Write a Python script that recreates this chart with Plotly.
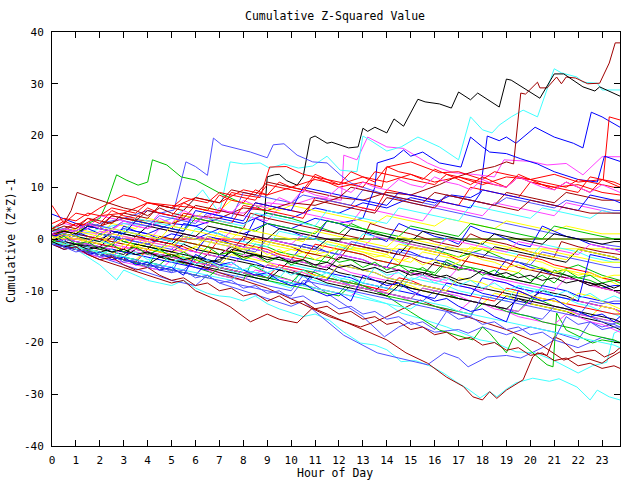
import plotly.graph_objects as go

# ---------------- prominent series: lists of [hour, cumulative value] ----------------
red_1 = [[0, 0], [23.75, 0]]
green_1 = [[9.0, 0], [23.75, 0]]
blue_1 = [[0,0.5],[1,1],[2,0],[3,2],[4,1],[5,3],[6,2.5],[7,4],[8,3],[9,5],[10,4],[11,6],[12,5],[13,7],[14,6],[15,8],[16,7],[16.7,8.5],[17.5,8],[17.9,9],[18.2,19.9],[18.7,19],[19.0,19.7],[19.4,18.5],[20.2,21.6],[21,19.7],[21.8,18.5],[22.2,17.6],[22.55,24.5],[23,23.6],[23.75,21.6]]
magenta_1 = [[0,1],[1,1.5],[2,1],[3,3],[4,2],[5,4],[6,3.5],[7,5.5],[8,5],[9,7],[10,6.5],[11,8],[12.1,7.5],[12.2,16.2],[12.75,15.3],[13.2,19.7],[14,17.8],[14.7,17.5],[15.7,14.7],[16.2,13.7],[16.8,12.8],[17.6,12.5],[18.5,12],[18.9,15.3],[20,15],[20.7,14.3],[21.5,14.6],[22.2,12.4],[23,15.9],[23.75,15.9]]
cyan_1 = [[0,0],[0.5,1],[1,0.5],[2,2],[3,3],[4,2.5],[5,4],[5.6,6],[6.3,9.5],[7.0,5],[7.45,14.9],[8,14.5],[8.7,14.7],[9.1,13.7],[9.7,14.5],[10.3,13.7],[10.9,14.1],[11.5,16],[12.05,13.3],[12.75,13],[13.0,19.9],[13.3,19.1],[14,17],[14.6,17.8],[15.3,19.7],[16.2,17.8],[17.0,15.3],[17.5,23.6],[18.0,21.1],[18.4,20.5],[18.7,22],[19.2,23.6],[19.7,24.9],[20.3,23.6],[21.0,32.9],[21.3,32.1],[21.95,31.3],[22.2,30.3],[22.8,30.1],[23.0,28.8],[23.75,28.8]]
darkred_1 = [[0,0.5],[0.5,2],[1,3],[2,2.5],[3,4],[4,3.5],[5,3],[6,4.5],[7,4],[8,6],[9,5.5],[10,7],[11,6.5],[12,8],[13,7.5],[14,9],[15,8.5],[16.2,10.5],[16.8,11.8],[17.8,13.3],[18.5,14],[19.0,14.9],[19.3,14.5],[19.6,28.2],[19.8,28],[20.3,30.3],[20.4,29.2],[20.7,29.2],[21.1,31.3],[21.3,30],[21.5,31.3],[21.9,31.1],[22.4,30],[22.9,30.1],[23.3,34],[23.55,37.9],[23.75,37.9]]
yellow_1 = [[0,0],[1,-1],[2,-0.5],[3,-2],[4,-1],[5,-2.5],[6,-1.5],[7,-3],[8,-2],[9,-3.5],[10,-2],[11,-3],[12,-1.9],[23.75,-1.9]]
black_1 = [[0,-0.5],[0.5,-0.5],[1,-1],[2,-1.5],[2.5,0.5],[3,-0.5],[4,-1.5],[5,-2.5],[5.5,-1],[6,-2],[7,-3],[7.5,-1.5],[8,-2.5],[8.75,-3.5],[9.0,12],[9.3,12.4],[9.5,12.5],[9.8,11.3],[10.25,10.4],[10.5,12],[10.8,19.5],[11.0,19.9],[11.5,18.5],[11.7,18.7],[12.4,17.6],[12.8,17.8],[13.0,21.4],[13.2,20.8],[13.5,21.6],[14.0,20.5],[14.3,23.2],[14.7,21.8],[15.3,27.0],[15.6,26.5],[16.2,26.1],[16.7,25.3],[17.0,28.4],[17.5,26.9],[17.8,28.2],[18.7,25.5],[19.0,30.9],[19.2,30.7],[20.4,27.2],[21.0,31.9],[21.4,31.9],[22.2,29.4],[22.7,28.6],[22.9,29.4],[23.75,27.6]]
slate_1 = [[0,0.5],[0.5,1.5],[1,1],[2,3],[3,4],[4,5.5],[4.5,5],[5.1,5.6],[5.6,14.9],[6.0,14],[6.5,12.3],[6.75,19.5],[7.1,18.2],[7.9,17.2],[8.3,16.8],[9.0,15.7],[9.25,18.2],[9.7,18.4],[10.25,16.2],[10.9,14.9],[11.5,14.7],[12.05,12.4],[12.5,10.8],[13,10],[14,8.5],[15,7],[16,6],[17,5],[18,4],[19,3],[20,2],[21,1],[22,0],[23,-1],[23.75,-1.5]]
red_2 = [[0,1],[1,2],[2,4.5],[3,5],[4,7],[5,6],[6,8],[7,7],[8,9.5],[9,8.5],[10,10],[11,11.5],[12,10.5],[13,12],[14,11],[15,12.5],[16,11],[17,12],[18,10.5],[19,12],[20,11.5],[21,12.5],[22,11],[23.05,11.5],[23.3,23.6],[23.75,23]]
green_2 = [[0,0.5],[0.5,1.5],[1,1],[1.5,3],[2,4],[2.3,7],[2.7,12.4],[3.1,11.4],[3.6,10.4],[4.0,11],[4.2,15.3],[4.8,14.3],[5.4,12],[6,11.4],[7,8.9],[7.9,7],[8.5,6.5],[9,5],[10,4],[11,2.5],[12,1],[12.5,3],[13,2],[14,0.5],[15,-1],[16,-2],[17,-3.5],[18,-2],[19,-4],[20,-5],[21,-6.5],[22,-5],[23,-7],[23.75,-8]]
blue_2 = [[0,4.8],[1,3],[2,1],[3,0],[4,-1],[5,1],[6,0],[7,2],[8,1],[9,3],[10,2],[11,4],[12,3],[13,4],[13.5,10],[13.6,14.7],[14.3,15.7],[14.7,17.2],[15,16],[15.5,16.8],[16.2,14.7],[17.1,13.9],[17.5,19.7],[18,17.8],[18.3,16.8],[19,16.5],[19.6,15.5],[20.3,14.5],[21,13],[22,11.5],[22.8,11],[23.1,16],[23.75,15]]
cyan_2 = [[0,0],[0.5,-1],[1,-2],[1.5,-3.5],[2,-5],[2.7,-7.9],[3,-6],[3.5,-7],[4,-8],[4.5,-8.5],[5,-9],[5.5,-8],[6,-9.5],[6.5,-10.5],[7,-11],[7.45,-11.2],[8,-12],[8.5,-11],[9,-12.5],[9.5,-13.5],[10,-14.3],[10.5,-15],[11,-14.5],[11.6,-15.7],[12.2,-18],[12.9,-20.1],[13.5,-20.5],[14,-21.4],[14.6,-23.7],[15.2,-23.5],[15.9,-24.7],[16.4,-26],[16.9,-27.6],[17.4,-29],[17.9,-30.7],[18.3,-29.5],[18.6,-30.5],[19,-29],[19.4,-27.8],[20.1,-26.9],[20.8,-27.5],[21.2,-27],[21.95,-28.6],[22.5,-31.1],[22.8,-29.2],[23.3,-30.5],[23.75,-31.1]]
darkred_2 = [[0,2],[0.5,3],[0.8,5.5],[1.05,9],[1.6,8.1],[2.3,7],[3,6],[3.5,5.5],[4,4.5],[4.5,6],[5,5],[6,4],[7,3],[8,2],[8.3,5],[9,4],[10,3],[11,2],[12,1],[13,0],[13.3,3],[14,2],[15,1],[16,-0.5],[17,-1.5],[17.5,1],[18,0],[19,-1],[20,-2.5],[21,-3.5],[21.3,-0.5],[22,-1.5],[23,-2.5],[23.75,-3]]
slate_2 = [[0,-0.5],[1,-2],[2,-3.5],[3,-5],[4,-6.5],[5,-8],[6,-9],[6.5,-7],[7,-8.5],[8,-10],[9,-11.5],[10,-13],[10.5,-12],[11,-14],[12.2,-18.6],[13.6,-22],[14.5,-23],[15.7,-24.3],[16.4,-22],[17,-23],[17.4,-24.7],[18.2,-22.8],[19,-22.5],[19.6,-23],[20.5,-21],[21,-19.5],[22,-21],[22.5,-20],[23,-19],[23.75,-20]]
red_3 = [[0,6.5],[0.5,3],[1,5],[1.5,4.5],[2,6],[3,8.5],[3.5,8],[4,7],[5,6.5],[6,6],[7,5],[7.5,9],[8,8.5],[8.7,8],[9.1,13.9],[9.8,14],[10.5,12.5],[11,12],[12,10],[13,11],[13.8,10],[14,13.9],[15,14.9],[15.5,14],[16.2,12.8],[17,13],[18,11.5],[18.5,13],[19.5,12],[20,11],[21,10],[22,10.5],[23,9],[23.75,8.5]]
cyan_3 = [[0,0],[1,-1.5],[2,-2.5],[3,-4],[4,-5],[4.3,-2],[5,-3],[6,-4.5],[7,-5.5],[8,-7],[9,-8],[10,-9.5],[10.3,-7],[11,-8],[12,-9.5],[13,-11],[14,-12.5],[14.6,-14.3],[15.5,-15.5],[16.5,-17],[17.9,-19.5],[18.5,-20],[19.4,-21.8],[20.2,-22],[21,-23.5],[22,-25.9],[22.6,-24.5],[23.2,-23.8],[23.5,-18.2],[23.75,-17.6]]
darkred_3 = [[0,0],[1,-2],[2,-4],[3,-5.5],[4,-7],[5,-8.5],[5.5,-8],[6,-10],[7,-12],[7.45,-13.1],[8.3,-16],[9,-14.5],[9.5,-15.5],[10.25,-16.2],[10.9,-13.3],[11.5,-14.5],[12.3,-16],[13,-17.5],[14,-19.5],[14.8,-22],[15.7,-24],[16.5,-26.7],[17.2,-28.5],[17.6,-30.5],[18.0,-31.1],[18.3,-29.5],[18.6,-30.8],[19.0,-29.2],[19.7,-27.2],[20.1,-22.8],[20.3,-22],[20.7,-22.5],[21.0,-18.9],[21.3,-19.5],[21.9,-22],[22.7,-21.5],[23.1,-22.8],[23.5,-22],[23.75,-21]]
slate_3 = [[0,-1],[1,-1.5],[2,-3],[3,-4],[4,-5.5],[5,-6.5],[5.3,-4],[6,-5],[7,-6.5],[8,-7.5],[9,-9],[10,-10],[10.5,-7],[11,-9],[12,-12],[13,-15],[13.9,-18.9],[14.5,-17],[15,-16],[16,-18],[17,-17.5],[17.4,-18.2],[18,-17],[19,-18.5],[20,-17],[21,-18],[22,-19.5],[22.5,-16],[23,-17],[23.75,-16]]
green_4 = [[0,-0.5],[1,-1.5],[2,-3],[3,-4],[4,-5.5],[4.3,-3],[5,-4],[6,-5.5],[7,-7],[8,-8],[8.3,-5],[9,-6.5],[10,-8],[11,-9.5],[12,-10.5],[12.5,-8],[13,-9],[14,-11],[15,-14.1],[16.2,-17.6],[17.6,-19.5],[18,-17],[18.3,-18.2],[19,-22],[19.3,-18.9],[20.7,-24.3],[20.95,-24.7],[21.1,-14.3],[21.5,-17.6],[22.6,-20.1],[23,-19.5],[23.75,-20.1]]
darkred_4 = [[0,0],[1,-1.5],[2,-2.5],[3,-4],[3.3,-1.5],[4,-2.5],[5,-4],[6,-5],[7,-6.5],[8,-8],[9,-9.5],[10.4,-12.4],[11.6,-15],[12.9,-17],[13.5,-16],[14,-15],[15.4,-11.8],[16,-13],[17,-14.5],[18,-16],[19,-17.5],[20.3,-20],[21.4,-23.4],[22,-22.5],[23,-24],[23.3,-23],[23.75,-21.8]]

# ---------------- filler series: values on the half-hour grid ----------------
hours_grid = [0, 0.5, 1, 1.5, 2, 2.5, 3, 3.5, 4, 4.5, 5, 5.5, 6, 6.5, 7, 7.5,
              8, 8.5, 9, 9.5, 10, 10.5, 11, 11.5, 12, 12.5, 13, 13.5, 14, 14.5, 15, 15.5,
              16, 16.5, 17, 17.5, 18, 18.5, 19, 19.5, 20, 20.5, 21, 21.5, 22, 22.5, 23, 23.5,
              23.75]

green_3 = [0.5, 0, -0.5, -1, 1, 0.5, -0.5, -1, -1.5, -2, 0, -0.5, -1, -1.5, -2, -2.5, -3, -1, -1.5, -2.5, -3, -3.5, -4, -4.5, -2, -2.5, -3, -4, -4.5, -5, -5.5, -6, -6.5, -4, -5, -5.5, -6, -7, -7.5, -8, -8.5, -9, -6, -7, -7.5, -8, -9, -10, -10.5]
blue_3 = [1, -0.5, 1.5, 0.5, 0, -1, 2.5, 1.5, 1, 0, -0.5, 3, 2.5, 1.5, 1, 0, -0.5, 4, 3, 2, 1.5, 0.5, 0, 3.5, 3, 2, 1.5, 0.5, -0.5, 3, 2, 1.5, 0.5, 0, -1, 2.5, 1.5, 1, 0, -1, -1.5, 2.5, 1.5, 0.5, 0, -1, -1.5, -2, -2]
magenta_3 = [0, -0.5, -1, -1.5, -2, -1, -1.5, -2.5, -3, -3.5, -2, -2.5, -3.5, -4, -4.5, -5, -3, -3.5, -4.5, -5, -5.5, -6, -6.5, -5, -5.5, -6.5, -7, -7.5, -8, -6, -6.5, -7.5, -8, -8.5, -9, -9.5, -10, -8, -8.5, -9.5, -10, -10.5, -11, -11.5, -12, -12.5, -13, -13.5, -14]
yellow_3 = [-0.5, -1, -1.5, 0.5, 0, -0.5, -1, -1.5, 1, 0.5, 0, -0.5, -1, -1.5, 1.5, 1, 0.5, -0.5, -1, -1.5, -2, -2.5, -3, -1, -1.5, -2, -2.5, -3, -3.5, -4, -4.5, -2.5, -3, -3.5, -4, -4.5, -5, -5.5, -6, -6.5, -4, -4.5, -5.5, -6, -6.5, -7, -7.5, -8.5, -9]
black_3 = [-0.5, -1, -1.5, -2, -2.5, -3, -3.5, -2, -2.5, -3, -3.5, -4, -4.5, -5, -5.5, -6, -6.5, -7, -5, -5.5, -6, -7, -7.5, -8, -8.5, -9, -9.5, -10, -8, -8.5, -9.5, -10, -10.5, -11, -11.5, -12, -12.5, -13, -11, -11.5, -12.5, -13, -13.5, -14, -15, -15.5, -16, -17, -17.5]
red_4 = [2, 1.5, 3, 2.5, 2, 4.5, 4, 3.5, 3, 2.5, 2, 5, 4.5, 4, 3.5, 3, 6.5, 6, 5.5, 5, 4.5, 4, 8, 7.5, 7, 6.5, 6, 5.5, 9.5, 9, 8.5, 8, 7.5, 7, 6.5, 10, 9.5, 9, 8.5, 8, 11, 10.5, 10, 9.5, 9, 12, 11.5, 11, 10.5]
blue_4 = [-0.5, 1, 0.5, -0.5, -1, -1.5, 1.5, 1, 0, -0.5, -1, -2, -2.5, 0.5, 0, -1, -1.5, -2, -2.5, -3.5, -4, -1, -1.5, -2.5, -3, -3.5, -4, -5, -5.5, -2, -2.5, -3.5, -4, -4.5, -5.5, -6, -6.5, -7, -4, -4.5, -5.5, -6, -7, -7.5, -8, -8.5, -9.5, -9, -9]
magenta_4 = [-1, -1.5, -2, -3, -3.5, -4, -4.5, -5, -5.5, -6, -4, -4.5, -5.5, -6, -7, -7.5, -8, -6, -6.5, -7.5, -8, -9, -9.5, -10, -10.5, -11, -9, -9.5, -10.5, -11, -12, -12.5, -13, -13.5, -14, -12, -12.5, -13.5, -14, -15, -15.5, -16, -16.5, -14.5, -15, -16, -16.5, -17.5, -18]
cyan_4 = [1.5, 1, 0.5, 0, -0.5, -1, 1.5, 1, 0.5, 0, -0.5, -1, 2, 1.5, 1, 0, -0.5, -1, -1.5, 1.5, 1, 0.5, 0, -1, -1.5, -2, 1, 0.5, 0, -0.5, -1.5, -2, -2.5, 0.5, 0, -0.5, -1, -2, -2.5, -3, -3.5, -1, -1.5, -2, -2.5, -3.5, -4, -4.5, -4.5]
yellow_4 = [-0.5, -1, -1.5, -2, -2.5, -3, -3.5, -4, -2, -2.5, -3, -4, -4.5, -5, -5.5, -6, -6.5, -7, -5, -5.5, -6.5, -7, -7.5, -8, -8.5, -9, -9.5, -10, -10.5, -8.5, -9, -10, -10.5, -11, -11.5, -12, -12.5, -10.5, -11, -12, -12.5, -13, -13.5, -14, -14.5, -15, -13, -13.5, -14.5]
black_4 = [-0.5, 1, 0.5, 0, -0.5, 1.5, 1, 0.5, 0, -0.5, -1, 1, 0.5, 0, -0.5, -1, -1.5, 0.5, 0, -0.5, -1, -1.5, -2, 0, -0.5, -1, -1.5, -2, -2.5, -3, -0.5, -1, -1.5, -2, -2.5, -3, -3.5, -1.5, -2, -2.5, -3, -3.5, -4, -4.5, -2, -2.5, -3, -3.5, -4]
slate_4 = [0, -0.5, -1, -1.5, 1, 0.5, 0, -0.5, -1, -1.5, -2, 0.5, 0, -0.5, -1, -1.5, -2, -2.5, 0, -0.5, -1, -1.5, -2, -2.5, -3, -0.5, -1, -1.5, -2, -2.5, -3, -3.5, -4, -1.5, -2, -2.5, -3, -3.5, -4, -4.5, -5, -2.5, -3, -3.5, -4, -4.5, -5, -5.5, -5.5]
red_5 = [1, 0.5, 0, -0.5, -1, -1.5, -2, 0.5, 0, -0.5, -1, -1.5, -2.5, -3, 0, -0.5, -1, -1.5, -2, -3, -3.5, -4, -1, -1.5, -2, -2.5, -3, -4, -4.5, -5, -1.5, -2, -2.5, -3, -4, -4.5, -5, -5.5, -6, -3, -3.5, -4, -5, -5.5, -6, -6.5, -7.5, -8, -8]
green_5 = [2, 1.5, 1, 2.5, 2, 1.5, 1, 3.5, 3, 2.5, 2, 1.5, 4, 3.5, 3, 2.5, 2, 1.5, 3, 2.5, 2, 1.5, 1, 3.5, 3, 2.5, 2, 1.5, 1, 0.5, 2.5, 2, 1.5, 1, 0.5, 3, 2.5, 2, 1.5, 1, 0.5, 0, 2.5, 2, 1.5, 1, 0.5, 0, 0]
blue_5 = [-1, -1.5, -2, -2.5, -3, -3.5, -4, -4.5, -5, -5.5, -6, -6.5, -7, -4.5, -5, -5.5, -6, -6.5, -7.5, -8, -8.5, -9, -6, -6.5, -7, -7.5, -8.5, -9, -9.5, -10, -10.5, -11, -11.5, -8.5, -9, -9.5, -10.5, -11, -11.5, -12, -12.5, -9, -9.5, -10, -11, -11.5, -12, -12.5, -12.5]
magenta_5 = [1, 0.5, 0, -0.5, 1.5, 1, 0.5, 0, -0.5, 2, 1.5, 1, 0.5, 0, -0.5, 1.5, 1, 0.5, 0, -0.5, -1, 1, 0.5, 0, -0.5, -1, -1.5, 0.5, 0, -0.5, -1, -1.5, -2, 0, -0.5, -1, -1.5, -2, -2.5, -0.5, -1, -1.5, -2, -2.5, -3, -1, -1.5, -2, -2.5]
cyan_5 = [-0.5, -1, -1.5, -2, -2.5, -3, -3.5, -4, -4.5, -5, -5.5, -3, -3.5, -4, -4.5, -5.5, -6, -6.5, -7, -7.5, -5, -5.5, -6, -6.5, -7.5, -8, -8.5, -9, -9.5, -10, -7.5, -8, -8.5, -9, -10, -10.5, -11, -11.5, -12, -9, -9.5, -10, -11, -11.5, -12.5, -13, -14, -14.5, -15]
darkred_5 = [0.5, 1.5, 1, 0.5, 0, -0.5, -1, -1.5, -2, 0.5, 0, -0.5, -1, -1.5, -2, -2.5, 0.5, 0, -0.5, -1, -1.5, -2.5, -3, -3.5, -4, -1, -1.5, -2, -2.5, -3, -3.5, -4.5, -5, -5.5, -6, -3, -3.5, -4, -4.5, -5.5, -6, -6.5, -7, -7.5, -8, -8.5, -9.5, -10, -10]
yellow_5 = [-0.5, 0.5, 0, -0.5, -1, 1, 0.5, 0, -0.5, -1, -1.5, 0.5, 0, -0.5, -1, -1.5, -2, 0, -0.5, -1, -1.5, -2, -2.5, -0.5, -1, -1.5, -2, -2.5, -3, -1, -1.5, -2, -2.5, -3, -3.5, -1.5, -2, -2.5, -3, -3.5, -4, -2, -2.5, -3, -3.5, -4, -4.5, -4.5, -4.5]
black_5 = [-1, -0.5, -1, -1.5, -2, -2.5, -3, -1, -1.5, -2, -2.5, -3, -3.5, -4, -4.5, -2, -2.5, -3, -3.5, -4, -4.5, -5, -5.5, -6, -3.5, -4, -4.5, -5, -5.5, -6, -6.5, -7, -4.5, -5, -5.5, -6, -6.5, -7, -7.5, -8, -8.5, -6, -6.5, -7, -8, -8.5, -9, -10, -10.5]
slate_5 = [-0.5, -1, -1.5, -2, -2.5, -3, -3.5, -4, -4.5, -5, -5.5, -6, -4, -4.5, -5.5, -6, -6.5, -7, -7.5, -8, -8.5, -9, -7, -7.5, -8, -9, -9.5, -10, -10.5, -11, -11.5, -12, -10, -10.5, -11.5, -12, -12.5, -13, -13.5, -14.5, -15, -15.5, -13, -13.5, -14.5, -15, -16, -16.5, -17]
red_6 = [-1, -1.5, -2, -2.5, -3, -3.5, -4, -4.5, -2, -2.5, -3, -3.5, -4.5, -5, -5.5, -6, -6.5, -7, -7.5, -5, -5.5, -6, -7, -7.5, -8, -8.5, -9, -9.5, -10, -7.5, -8, -9, -9.5, -10, -10.5, -11, -11.5, -12, -9.5, -10, -11, -11.5, -12, -12.5, -13, -13.5, -14, -14.5, -14.5]
green_6 = [-0.5, -1, -1.5, -2, -2.5, -3, -3.5, -4, -4.5, -5, -3, -3.5, -4, -5, -5.5, -6, -6.5, -7, -7.5, -8, -8.5, -6, -6.5, -7.5, -8, -8.5, -9, -10, -10.5, -11, -11.5, -9.5, -10, -10.5, -11.5, -12, -12.5, -13, -13.5, -14, -11.5, -12, -13, -13.5, -14, -15, -15.5, -16, -16.5]
blue_6 = [0.5, 0, -0.5, -1, -1.5, -2, -2.5, -3, -3.5, -4, -4.5, -5, -5.5, -6, -3, -3.5, -4, -4.5, -5.5, -6, -6.5, -7, -7.5, -8, -5, -5.5, -6, -6.5, -7.5, -8, -8.5, -9, -9.5, -10, -10.5, -11, -7.5, -8, -8.5, -9.5, -10, -10.5, -11, -11.5, -12, -3, -3.5, -4, -4]
magenta_6 = [0.5, 0, -0.5, -1, -1.5, -2, 0.5, 0, -0.5, -1, -1.5, -2, -2.5, -3, -3.5, -1, -1.5, -2, -2.5, -3.5, -4, -4.5, -5, -5.5, -3, -3.5, -4, -5, -5.5, -6, -6.5, -7, -7.5, -8, -5.5, -6, -6.5, -7.5, -8, -8.5, -9, -9.5, -10, -7.5, -8, -9, -9.5, -10, -10.5]
cyan_6 = [2.5, 2, 1.5, 3, 2.5, 2, 1.5, 4, 3.5, 3, 2.5, 2, 4.5, 4, 3.5, 3, 2.5, 5, 4.5, 4, 3.5, 3, 2.5, 5.5, 5, 4.5, 4, 3.5, 3, 6, 5.5, 5, 4.5, 4, 3.5, 6.5, 6, 5.5, 5, 4.5, 4, 6, 5.5, 5, 4.5, 4, 5.5, 5, 5]
darkred_6 = [1, 2, 1.5, 3, 2.5, 4.5, 4, 3.5, 5.5, 5, 4.5, 4, 6.5, 6, 5.5, 5, 4.5, 7, 6.5, 6, 5.5, 5, 7.5, 7, 6.5, 6, 5.5, 5, 8, 7.5, 7, 6.5, 6, 8.5, 8, 7.5, 7, 6.5, 9, 8.5, 8, 7.5, 7, 9, 8.5, 8, 7.5, 7.5, 7.5]
yellow_6 = [-0.5, -1, -1.5, -2, -2.5, -3, -1, -1.5, -2, -2.5, -3, -3.5, -4, -4.5, -5, -3, -3.5, -4, -4.5, -5.5, -6, -6.5, -7, -7.5, -5, -5.5, -6, -6.5, -7.5, -8, -8.5, -9, -9.5, -10, -7.5, -8, -8.5, -9.5, -10, -10.5, -11, -11.5, -12, -12.5, -10.5, -11, -12, -13, -13.5]
black_6 = [1, 1.5, 1, 2.5, 2, 1.5, 1, 0.5, 2.5, 2, 1.5, 1, 0.5, 2.5, 2, 1.5, 1, 0.5, 0, 2, 1.5, 1, 0.5, 0, -0.5, 2, 1.5, 1, 0.5, 0, -0.5, 1.5, 1, 0.5, 0, -0.5, -1, 1, 0.5, 0, -0.5, -1, 1, 0.5, 0, -0.5, -1, -0.5, -0.5]
slate_6 = [1.5, 2, 1.5, 3, 2.5, 2, 3.5, 3, 2.5, 4.5, 4, 3.5, 3, 5, 4.5, 4, 9, 8.5, 8, 7.5, 7, 8.5, 8, 7.5, 7, 6.5, 9.5, 9, 8.5, 8, 7.5, 7, 6.5, 8.5, 8, 7.5, 7, 6.5, 8, 7.5, 7, 6.5, 6, 7.5, 7, 6.5, 6, 5.5, 5.5]
magenta_2 = [2, 3, 2.5, 2, 4.5, 4, 3.5, 3, 2.5, 5, 4.5, 4, 3.5, 3, 5.5, 5, 4.5, 4, 3.5, 6, 5.5, 5, 4.5, 4, 3.5, 3, 6, 5.5, 5, 4.5, 4, 3.5, 6.5, 6, 5.5, 5, 4.5, 7, 6.5, 6, 5.5, 5, 4.5, 7, 6.5, 6, 5.5, 5, 5]
yellow_2 = [1, 1.5, 2, 1.5, 1, 3, 2.5, 2, 4, 3.5, 3, 4.5, 4, 6, 5.5, 7.5, 7, 6.5, 6, 5.5, 6.5, 6, 5.5, 5, 4.5, 4, 3.5, 3, 4.5, 4, 3.5, 3, 2.5, 4, 3.5, 3, 2.5, 2, 3.5, 3, 2.5, 2, 1.5, 2.5, 2, 1.5, 1, 1, 1]
black_2 = [-0.5, -1, -1.5, -2, -2.5, -2, -2.5, -3, -2.7, -3.5, -4, -4.5, -5, -3, -3.5, -4, -4.5, -5, -5.5, -6, -4, -4.5, -5, -5.5, -6.5, -7, -7.5, -8, -8.5, -9, -6, -6.5, -7, -7.5, -8.5, -9, -9.5, -10, -10.5, -11, -11.5, -10, -10.5, -11, -12, -12.5, -13, -13.5, -14]
red_7 = [3, 4, 3.5, 5, 4.5, 6, 5.5, 5, 7, 6.5, 6, 8, 7.5, 7, 9, 8.5, 8, 7.5, 10.5, 10, 9.5, 9, 12, 11.5, 11, 10.5, 10, 13, 12.5, 12, 11.5, 11, 10.5, 12.5, 12, 11.5, 11, 10.5, 10, 12, 11.5, 11, 10.5, 10, 11.5, 11, 10.5, 10, 10]
green_7 = [-1, -1.5, -2, -2.5, -3, -3.5, -4, -4.5, -5, -5.5, -6, -6.5, -7, -7.5, -5.5, -6, -6.5, -7.5, -8, -8.5, -9, -9.5, -10, -10.5, -11, -9, -9.5, -10, -11, -11.5, -12, -12.5, -13, -13.5, -14, -14.5, -12.5, -13, -14, -14.5, -15, -16, -16.5, -17, -17.5, -18.5, -19, -19.5, -20]
blue_7 = [0.5, 1, 0.5, 2.5, 2, 1.5, 1, 3.5, 3, 2.5, 2, 1.5, 5.5, 5, 4.5, 4, 3.5, 7, 6.5, 6, 5.5, 10, 9.5, 9, 8.5, 8, 7.5, 7, 6.5, 9, 8.5, 8, 7.5, 7, 6.5, 6, 9.5, 9, 8.5, 8, 7.5, 7, 6.5, 6, 5.5, 8.5, 8, 7.5, 7]
magenta_7 = [-1, -1.5, -2, -2.5, -3, -3.5, -1.5, -2, -2.5, -3, -3.5, -4, -4.5, -5, -5.5, -6, -6.5, -7, -5, -5.5, -6, -6.5, -7.5, -8, -8.5, -9, -9.5, -10, -10.5, -11, -11.5, -9.5, -10, -10.5, -11, -12, -12.5, -13, -13.5, -14, -12, -12.5, -13, -13.5, -14.5, -15, -15.5, -16, -16]
cyan_7 = [-0.5, -1, -1.5, -2, -2.5, -3, -3.5, -4, -4.5, -5, -5.5, -6, -6.5, -7, -7.5, -8, -6, -6.5, -7, -8, -8.5, -9, -9.5, -10, -10.5, -11, -11.5, -12, -12.5, -13, -13.5, -12, -12.5, -13, -14, -14.5, -15, -15.5, -16, -16.5, -17, -17.5, -18, -18.5, -19, -19.5, -20, -20.5, -21]
darkred_7 = [1.5, 2.5, 2, 4, 3.5, 3, 5, 4.5, 4, 6.5, 6, 5.5, 8, 7.5, 7, 9.5, 9, 8.5, 11, 10.5, 10, 9.5, 9, 8.5, 8, 10, 9.5, 9, 8.5, 8, 7.5, 7, 9, 8.5, 8, 7.5, 7, 6.5, 6, 5.5, 7.5, 7, 6.5, 6, 5.5, 5, 5, 5, 5]
yellow_7 = [0.5, 0, 1.5, 1, 0.5, 2, 1.5, 1, 0.5, 0, 2.5, 2, 1.5, 1, 0.5, 0, 2, 1.5, 1, 0.5, 0, -0.5, 1.5, 1, 0.5, 0, -0.5, -1, -1.5, 0.5, 0, -0.5, -1, -1.5, -2, -2.5, -0.5, -1, -1.5, -2, -2.5, -3, -3.5, -4, -2, -2.5, -3, -3.5, -4]
black_7 = [-1, -1.5, -2, -2.5, -3, -3.5, -4, -4.5, -5, -3.5, -4, -4.5, -5, -5.5, -6, -6.5, -7, -7.5, -8, -6, -6.5, -7, -7.5, -8.5, -9, -9.5, -10, -10.5, -11, -9, -9.5, -10, -10.5, -11, -11.5, -12, -12.5, -13, -13.5, -11.5, -12, -12.5, -13, -13.5, -14, -14.5, -15, -15.5, -16]
slate_7 = [-1, -1.5, -2, -2.5, -3, -3.5, -4, -4.5, -5, -5.5, -6, -6.5, -7, -7.5, -8, -8.5, -9, -9.5, -10, -10.5, -11, -8, -8.5, -9, -9.5, -10, -10.5, -11, -11.5, -12, -12.5, -13, -13.5, -14, -14.5, -15, -11, -11.5, -12, -12.5, -13, -13.5, -14, -14.5, -15, -12, -12.5, -12, -12]
red_8 = [2, 3.5, 2.5, 4, 3, 5.5, 4.5, 4, 6, 5, 4.5, 7, 6, 5.5, 8.5, 7.5, 7, 9.5, 8.5, 11, 10, 9.5, 12.5, 11.5, 10.5, 13, 12, 11, 14, 13, 12.5, 11.5, 13.5, 12.5, 11.5, 10.5, 12, 11, 10, 12.5, 11.5, 10.5, 9.5, 11, 10, 9, 11.5, 10.5, 10]
green_8 = [-0.5, 0.5, -1, -0.5, -2, -1, -2.5, -1.5, -3, -2, -3.5, -2.5, -4, -1.5, -3, -2.5, -4, -3, -4.5, -3.5, -5, -4, -5.5, -3, -4.5, -4, -5.5, -4.5, -6, -5, -6.5, -5.5, -7, -4.5, -6, -5.5, -7, -6, -7.5, -6.5, -8, -7, -8.5, -6, -7.5, -7, -8.5, -8, -8.5]
blue_8 = [-1, -2, -1.5, -3, -2.5, -4, -3.5, -5, -4.5, -6, -5.5, -7, -3, -4, -5, -4.5, -6, -7, -6.5, -8, -9, -8.5, -10, -11, -10.5, -12, -7, -8, -9, -8.5, -10, -11, -12, -11.5, -13, -14, -13.5, -15, -16, -10, -11, -12, -11.5, -13, -14, -15, -14.5, -16, -15]
magenta_8 = [1, 2, 1.5, 3, 2, 1.5, 3.5, 2.5, 2, 4, 3, 5.5, 4.5, 4, 6, 5, 7.5, 6.5, 6, 8, 7, 9.5, 8.5, 8, 10, 9, 11, 10, 9.5, 11.5, 10.5, 10, 12, 11, 10.5, 9.5, 11.5, 10.5, 10, 12, 11, 10, 9.5, 11, 10, 9, 10.5, 9.5, 9]
cyan_8 = [-1, -0.5, -2, -1.5, -3, -2, -3.5, -2.5, -4, -3, -4.5, -3.5, -5, -4, -5.5, -4.5, -6, -5, -6.5, -5.5, -7, -6, -7.5, -6.5, -8, -7, -8.5, -5.5, -7, -6.5, -8, -7, -8.5, -7.5, -9, -8, -9.5, -8.5, -10, -9, -10.5, -9.5, -11, -10, -11.5, -10.5, -12, -11, -11.5]
darkred_8 = [-1, -2, -1.5, -3, -4, -3.5, -5, -6, -5.5, -7, -8, -7.5, -9, -8.5, -10, -9.5, -11, -10.5, -12, -11, -12.5, -12, -13.5, -13, -14.5, -14, -15.5, -15, -16.5, -16, -17.5, -17, -18.5, -18, -19.5, -19, -20.5, -20, -21.5, -21, -22.5, -22, -23.5, -23, -24.5, -24, -25, -24.5, -25]
yellow_8 = [0, 1, 0.5, -0.5, 0.5, -1, 0, -1.5, -0.5, -2, -1, -2.5, -1.5, 0.5, -0.5, -1, -2, -1.5, -3, -2, -3.5, -2.5, -4, -3, -1, -2, -2.5, -3.5, -3, -4.5, -3.5, -5, -4, -5.5, -4.5, -3, -4, -4.5, -5.5, -5, -6, -5.5, -6.5, -6, -7, -6.5, -7.5, -7, -7]
black_8 = [-0.5, -1.5, -1, -2, -1.5, -2.5, -2, -3, -2.5, -3.5, -3, -4, -3.5, -4.5, -4, -2.5, -3.5, -3, -4, -3.5, -4.5, -4, -5, -4.5, -5.5, -5, -6, -5.5, -6.5, -6, -7, -6.5, -7.5, -7, -8, -7.5, -6, -7, -6.5, -7.5, -7, -8, -7.5, -8.5, -8, -9, -8.5, -9.5, -9]
slate_8 = [-1, -1.5, -2.5, -2, -3.5, -3, -4.5, -4, -5.5, -5, -6.5, -6, -7.5, -7, -8.5, -8, -9.5, -9, -10.5, -10, -11.5, -11, -12.5, -12, -13.5, -13, -14.5, -14, -15.5, -15, -16.5, -16, -17.5, -14, -15.5, -15, -16.5, -16, -17.5, -17, -18.5, -18, -19.5, -15, -16.5, -16, -17.5, -17, -17]

x_ticks = list(range(0, 24))
y_ticks = [-40, -30, -20, -10, 0, 10, 20, 30, 40]
title_text = "Cumulative Z-Squared Value"
x_title = "Hour of Day"
y_title = "Cumulative (Z*Z)-1"

palette = ["#ff0000", "#00c000", "#0000ff", "#ff40ff", "#40ffff",
           "#a00000", "#ffff00", "#000000", "#5050ff"]

rounds = [
    [red_1, green_1, blue_1, magenta_1, cyan_1, darkred_1, yellow_1, black_1, slate_1],
    [red_2, green_2, blue_2, magenta_2, cyan_2, darkred_2, yellow_2, black_2, slate_2],
    [red_3, green_3, blue_3, magenta_3, cyan_3, darkred_3, yellow_3, black_3, slate_3],
    [red_4, green_4, blue_4, magenta_4, cyan_4, darkred_4, yellow_4, black_4, slate_4],
    [red_5, green_5, blue_5, magenta_5, cyan_5, darkred_5, yellow_5, black_5, slate_5],
    [red_6, green_6, blue_6, magenta_6, cyan_6, darkred_6, yellow_6, black_6, slate_6],
    [red_7, green_7, blue_7, magenta_7, cyan_7, darkred_7, yellow_7, black_7, slate_7],
    [red_8, green_8, blue_8, magenta_8, cyan_8, darkred_8, yellow_8, black_8, slate_8],
]


def xy(s):
    if s and isinstance(s[0], (list, tuple)):
        return [p[0] for p in s], [p[1] for p in s]
    n = min(len(s), len(hours_grid))
    return hours_grid[:n], list(s[:n])


fig = go.Figure()
for rnd in rounds:
    for ci, s in enumerate(rnd):
        xs, ys = xy(s)
        fig.add_trace(go.Scatter(x=xs, y=ys, mode="lines",
                                 line=dict(color=palette[ci], width=1), hoverinfo="skip"))

FONT = "DejaVu Sans Mono"
L, R, T, B = 52, 20, 32, 34
W, H = 640, 480
pw, ph = W - L - R, H - T - B

fig.update_layout(
    width=W, height=H, margin=dict(l=L, r=R, t=T, b=B),
    paper_bgcolor="white", plot_bgcolor="white", showlegend=False,
    font=dict(family=FONT, size=11, color="black"),
)
fig.update_xaxes(range=[0, 23.75], tickmode="array", tickvals=x_ticks,
                 ticktext=[str(v) for v in x_ticks],
                 ticks="inside", ticklen=6, tickcolor="black", showline=True,
                 linecolor="black", linewidth=1, mirror="ticks", showgrid=False,
                 zeroline=False, ticklabelstandoff=4)
fig.update_yaxes(range=[-40, 40], tickmode="array", tickvals=y_ticks,
                 ticktext=[str(v) for v in y_ticks],
                 ticks="inside", ticklen=6, tickcolor="black", showline=True,
                 linecolor="black", linewidth=1, mirror="ticks", showgrid=False,
                 zeroline=False, ticklabelstandoff=5)

fig.add_annotation(text=title_text, xref="paper", yref="paper",
                   x=(335 - L) / pw, y=(H - B - 16) / ph, xanchor="center", yanchor="middle",
                   showarrow=False, font=dict(family=FONT, size=11.5))
fig.add_annotation(text=x_title, xref="paper", yref="paper",
                   x=(335 - L) / pw, y=(H - B - 473) / ph, xanchor="center", yanchor="middle",
                   showarrow=False, font=dict(family=FONT, size=11.5))
fig.add_annotation(text=y_title, xref="paper", yref="paper", textangle=-90,
                   x=(11 - L) / pw, y=(H - B - 241) / ph, xanchor="center", yanchor="middle",
                   showarrow=False, font=dict(family=FONT, size=11.5))

fig.write_html("out.html")
